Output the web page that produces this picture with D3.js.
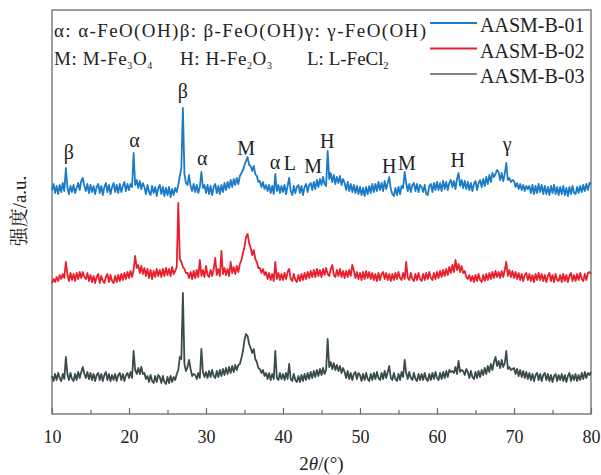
<!DOCTYPE html>
<html>
<head>
<meta charset="utf-8">
<script src="https://cdn.jsdelivr.net/npm/d3@7/dist/d3.min.js"></script>
<style>
  html, body { margin: 0; padding: 0; background: #fff; }
  svg { display: block; }
  text { font-family: "Liberation Serif", "DejaVu Serif", serif; fill: #222; }
</style>
</head>
<body>
<svg id="chart" width="601" height="475"></svg>
<script>
// XRD patterns, 2θ from 10° to 80° in 0.2° steps (stacked intensity, a.u.)
const twoThetaStart = 10;
const twoThetaStep = 0.2;

const seriesNames = ["AASM-B-01", "AASM-B-02", "AASM-B-03"];
const seriesColors = ["#1b7bc6", "#e81f2d", "#3a4b4b"];
const legendColors = ["#1b7bc6", "#e81f2d", "#838383"];

const asmB01 = [
  224,230,221,228,220,229,222,231,223,246,
  227,220,228,222,229,221,226,231,224,233,
  236,228,223,230,221,229,222,228,220,227,
  230,221,228,219,227,231,222,229,220,227,
  231,222,229,221,230,222,228,232,223,230,
  224,230,227,261,229,234,226,233,225,231,
  227,220,229,222,219,228,221,227,218,226,
  229,220,227,218,226,219,227,217,225,219,
  226,222,229,238,246,306,240,231,229,239,
  228,223,230,222,229,221,227,242,226,229,
  221,229,220,228,219,227,230,221,228,220,
  229,222,231,224,232,226,234,227,235,229,
  236,230,238,241,244,249,253,257,249,248,
  243,248,240,238,232,233,227,232,225,229,
  223,229,221,228,220,240,223,229,221,228,
  222,229,220,228,236,223,219,228,221,227,
  229,221,228,219,227,230,222,229,231,224,
  232,225,234,227,235,229,237,230,228,263,
  235,241,232,239,230,237,231,238,229,235,
  231,224,232,223,230,222,229,221,228,220,
  227,219,226,218,227,220,228,221,230,222,
  230,223,232,224,231,223,233,225,231,237,
  225,220,218,226,219,227,220,228,226,242,
  231,223,230,222,229,231,223,230,222,229,
  227,222,229,220,219,228,230,222,231,224,
  232,224,231,223,233,225,232,224,231,234,
  227,233,225,235,241,228,234,226,233,225,
  232,224,231,223,230,233,224,231,234,227,
  235,228,237,230,239,232,241,237,240,244,
  242,234,241,233,240,251,234,236,232,234,
  233,227,231,225,230,224,229,223,228,225,
  228,221,229,220,228,221,230,222,229,220,
  228,220,227,219,228,221,229,220,227,219,
  227,220,228,219,226,218,227,220,228,221,
  220,227,221,228,222,229,223,230,224,231,
  230
];

const asmB02 = [
  131,135,132,137,133,139,135,140,136,152,
  140,133,141,134,140,133,141,135,142,136,
  142,137,135,141,133,139,132,138,131,137,
  140,131,138,133,131,137,140,132,139,133,
  131,138,132,139,133,140,134,141,135,142,
  136,143,137,144,158,146,149,141,148,140,
  146,138,145,136,144,135,143,137,145,138,
  144,137,145,138,146,139,145,138,147,140,
  143,147,211,155,152,147,145,141,141,136,
  142,135,143,136,144,137,154,138,144,137,
  148,139,137,144,138,145,156,139,145,138,
  163,140,146,139,145,138,152,141,147,140,
  148,142,150,154,161,167,177,180,171,166,
  159,164,155,152,146,146,141,145,139,142,
  135,141,134,140,133,152,135,141,134,140,
  134,141,135,142,145,135,133,140,134,132,
  139,133,140,134,141,135,142,136,143,137,
  144,137,145,138,144,137,145,139,146,140,
  138,145,149,139,137,144,138,145,137,143,
  136,143,137,144,138,149,143,136,142,135,
  141,134,142,135,143,136,142,135,141,134,
  140,133,141,134,140,142,135,141,134,140,
  133,140,134,141,135,142,136,134,141,135,
  152,136,134,141,135,133,140,134,141,135,
  133,140,134,141,135,142,136,134,141,135,
  142,136,143,137,144,138,145,139,147,141,
  149,142,154,144,150,142,148,141,143,137,
  135,139,133,138,132,139,133,140,134,132,
  139,133,140,134,141,135,142,136,143,137,
  142,136,143,137,144,152,138,144,137,143,
  136,142,135,141,134,140,133,139,141,134,
  140,133,139,132,140,134,141,134,140,133,
  139,132,138,141,133,139,132,140,134,133,
  139,132,140,133,139,132,138,141,133,139,
  133,140,134,141,135,133,140,134,141,142,
  140
];

const asmB03 = [
  38,33,40,34,41,36,33,40,35,57,
  40,34,41,35,33,40,34,42,36,42,
  47,40,36,42,35,41,34,40,33,39,
  41,34,40,33,39,42,34,40,33,39,
  34,40,33,39,41,34,40,33,39,41,
  36,42,36,63,44,40,46,40,47,40,
  41,35,38,32,39,33,31,38,32,39,
  37,31,38,32,30,37,31,38,32,37,
  34,40,44,57,55,121,50,43,47,54,
  45,38,40,39,35,41,36,65,42,37,
  42,36,43,37,44,38,36,43,37,44,
  38,45,39,46,40,47,41,48,42,49,
  44,49,50,56,63,74,80,78,70,66,
  61,65,55,52,46,45,41,44,38,41,
  35,41,34,40,35,63,36,34,41,35,
  40,34,41,35,50,35,33,40,34,32,
  38,32,39,33,40,34,41,35,42,36,
  43,37,44,38,45,39,46,40,44,75,
  47,52,45,51,44,49,43,48,41,46,
  42,36,43,35,41,34,40,42,35,41,
  39,33,40,34,41,35,33,40,34,41,
  35,42,36,34,41,35,43,36,42,48,
  36,34,41,35,33,40,34,42,37,54,
  41,35,42,36,34,41,35,33,40,34,
  40,34,41,35,33,40,34,41,35,42,
  36,34,41,35,42,36,43,37,44,42,
  43,41,47,40,53,42,44,43,39,45,
  42,36,43,37,35,42,36,43,37,44,
  39,46,40,48,42,50,44,52,57,48,
  53,46,54,47,51,63,45,47,44,45,
  46,40,45,38,44,37,43,36,42,35,
  41,34,40,33,39,41,34,40,33,39,
  41,34,40,33,39,32,38,40,33,39,
  34,40,33,39,32,38,41,33,39,34,
  40,33,39,34,41,35,42,36,41,39,
  42
];

const seriesValues = [asmB01, asmB02, asmB03];

// Phase markers over the reflections: label, 2θ, and height of the label baseline
const peakLabels = ["β", "α", "β", "α", "M", "α", "L", "M", "H", "H", "M", "H", "γ"];
const peakPositions = [12.2, 20.7, 27.0, 29.5, 35.2, 38.95, 40.9, 43.9, 45.75, 53.8, 56.1, 62.7, 69.1];
const peakLevels = [255, 267, 316, 249, 259, 245, 244, 241, 266, 241, 244, 247, 263];

const majorTicks = [10, 20, 30, 40, 50, 60, 70, 80];
const minorTicks = [15, 25, 35, 45, 55, 65, 75];

const svg = d3.select("#chart");
const margin = { left: 52, right: 10, top: 10, bottom: 61 };
const W = 601, H = 475;

const x = d3.scaleLinear().domain([10, 80]).range([margin.left, W - margin.right]);
const y = d3.scaleLinear().domain([0, 404]).range([H - margin.bottom, margin.top]);

// plot frame
svg.append("rect")
  .attr("x", x(10)).attr("y", y(404))
  .attr("width", x(80) - x(10)).attr("height", y(0) - y(404))
  .attr("fill", "none").attr("stroke", "#6b6b6b").attr("stroke-width", 1.3);

// patterns
const line = d3.line()
  .x((d, i) => x(twoThetaStart + i * twoThetaStep))
  .y(d => y(d));

svg.append("g").selectAll("path")
  .data(seriesValues)
  .join("path")
  .attr("d", d => line(d))
  .attr("fill", "none")
  .attr("stroke", (d, i) => seriesColors[i])
  .attr("stroke-width", 1.8)
  .attr("stroke-linejoin", "round");

// x axis with inward ticks
const xAxis = svg.append("g")
  .attr("transform", `translate(0,${y(0)})`)
  .call(d3.axisBottom(x).tickValues(majorTicks).tickSizeInner(-6).tickSizeOuter(0)
    .tickPadding(16).tickFormat(d3.format("d")));
xAxis.select(".domain").remove();
xAxis.selectAll(".tick line").attr("stroke", "#6b6b6b").attr("stroke-width", 1.2);
xAxis.selectAll(".tick text")
  .attr("font-family", "Liberation Serif, serif").attr("font-size", 18).attr("fill", "#222");

const xMinor = svg.append("g")
  .attr("transform", `translate(0,${y(0)})`)
  .call(d3.axisBottom(x).tickValues(minorTicks).tickSizeInner(-4).tickSizeOuter(0).tickFormat(""));
xMinor.select(".domain").remove();
xMinor.selectAll(".tick line").attr("stroke", "#6b6b6b").attr("stroke-width", 1.2);

// axis titles
const xTitle = svg.append("text")
  .attr("x", (x(10) + x(80)) / 2).attr("y", 470)
  .attr("text-anchor", "middle").attr("font-size", 19);
xTitle.append("tspan").text("2");
xTitle.append("tspan").attr("font-style", "italic").text("θ");
xTitle.append("tspan").text("/(°)");

const yTitle = svg.append("text")
  .attr("transform", `translate(26,211) rotate(-90)`)
  .attr("text-anchor", "middle")
  .attr("font-size", 19);
yTitle.append("tspan").attr("font-family", "Noto Serif CJK SC, Noto Sans CJK SC, serif").text("强度");
yTitle.append("tspan").text("/a.u.");

// phase labels over the peaks
svg.append("g").selectAll("text")
  .data(peakLabels)
  .join("text")
  .attr("x", (d, i) => x(peakPositions[i]))
  .attr("y", (d, i) => y(peakLevels[i]))
  .attr("text-anchor", "middle")
  .attr("font-size", 20)
  .text(d => d);

// phase key, top left
svg.append("text")
  .attr("x", 54).attr("y", 37)
  .attr("font-size", 19)
  .attr("textLength", 372).attr("lengthAdjust", "spacing")
  .text("α: α-FeO(OH)β: β-FeO(OH)γ: γ-FeO(OH)");

const key2 = [
  [["M: M-Fe", 0], ["3", 1], ["O", 0], ["4", 1]],
  [["H: H-Fe", 0], ["2", 1], ["O", 0], ["3", 1]],
  [["L: L-FeCl", 0], ["2", 1]]
];
const key2X = [54, 180, 307];
const key2Spacing = [0.6, 0.6, 0];
key2.forEach((parts, k) => {
  const t = svg.append("text").attr("x", key2X[k]).attr("y", 65).attr("font-size", 19)
    .attr("letter-spacing", key2Spacing[k]);
  let shifted = false;
  parts.forEach(([s, sub]) => {
    const ts = t.append("tspan").text(s);
    if (sub && !shifted) { ts.attr("dy", 4).attr("font-size", 10); shifted = true; }
    else if (sub) { ts.attr("font-size", 10); }
    else if (shifted) { ts.attr("dy", -4); shifted = false; }
  });
});

// legend
const legend = svg.append("g").selectAll("g")
  .data(seriesNames)
  .join("g")
  .attr("transform", (d, i) => `translate(430,${23 + i * 25.5})`);
legend.append("line")
  .attr("x1", 0).attr("x2", 47)
  .attr("stroke", (d, i) => legendColors[i]).attr("stroke-width", 2.2);
legend.append("text")
  .attr("x", 50).attr("y", 9)
  .attr("font-size", 20)
  .text(d => d);
</script>
</body>
</html>
